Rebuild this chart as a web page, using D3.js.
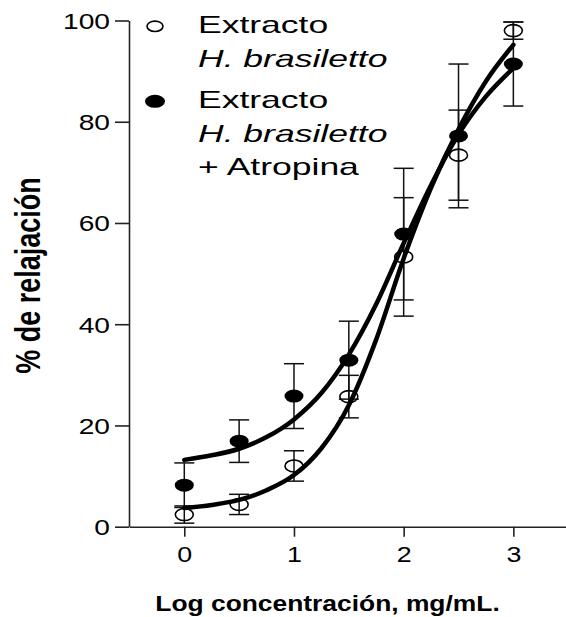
<!DOCTYPE html>
<html><head><meta charset="utf-8">
<script src="https://cdn.jsdelivr.net/npm/d3@7/dist/d3.min.js"></script>
<style>body{margin:0;background:#fff}svg{display:block}</style>
</head><body><svg id="c" width="566" height="617"></svg>
<script>
// ---- data ----
const doses = [0, 0.5, 1, 1.5, 2, 2.5, 3];
const extractoMean = [2.4, 4.4, 12.0, 25.7, 53.3, 73.4, 98.0];
const extractoSem  = [1.7, 2.0, 3.0, 4.2, 11.7, 8.9, 1.7];
const atropinaMean = [8.2, 16.9, 25.8, 32.9, 57.8, 77.2, 91.4];
const atropinaSem  = [4.4, 4.2, 6.4, 7.7, 13.0, 14.2, 8.3];
const fitX         = [0, 0.25, 0.5, 0.75, 1, 1.25, 1.5, 1.75, 2, 2.25, 2.5, 2.75, 3];
const extractoFit  = [3.7, 4.3, 5.3, 7.2, 10.2, 15.5, 24, 37, 53, 67, 78.5, 88, 95.2];
const atropinaFit  = [13.2, 14.1, 15.4, 17.7, 21.2, 26.4, 34, 44, 56, 67.5, 77.5, 85, 90.6];
const xTicks = [0, 1, 2, 3];
const yTicks = [0, 20, 40, 60, 80, 100];
const legendItems = [
  {marker: "open",   lines: [["Extracto", false], ["H. brasiletto", true]]},
  {marker: "filled", lines: [["Extracto", false], ["H. brasiletto", true], ["+ Atropina", false]]}
];
const xTitle = "Log concentración, mg/mL.";
const yTitle = "% de relajación";

// ---- drawing ----
const FONT = "'Liberation Sans', Arial, Helvetica, sans-serif";
const svg = d3.select("#c");
svg.append("rect").attr("width", 566).attr("height", 617).attr("fill", "#fff");

const x = d3.scaleLinear().domain([-0.5, 3.5]).range([129.45, 568.2]);
const y = d3.scaleLinear().domain([0, 100]).range([526.7, 20.5]);

// axes
const yAxis = svg.append("g").attr("transform", `translate(129,0)`)
  .call(d3.axisLeft(y).tickValues(yTicks).tickFormat(d3.format("d")).tickSize(14).tickPadding(5).tickSizeOuter(0));
const xAxis = svg.append("g").attr("transform", `translate(0,${y(0)})`)
  .call(d3.axisBottom(x).tickValues(xTicks).tickFormat(d3.format("d")).tickSize(10).tickPadding(10).tickSizeOuter(0));
[yAxis, xAxis].forEach(g => {
  g.select(".domain").attr("stroke", "#222").attr("stroke-width", 1.6);
  g.selectAll(".tick line").attr("stroke", "#222").attr("stroke-width", 1.6);
  g.selectAll(".tick text").attr("font-family", FONT).attr("font-size", 22).attr("fill", "#000");
});
yAxis.selectAll(".tick text").each(function() {
  const tx = +this.getAttribute("x");
  d3.select(this).attr("x", 0).attr("dy", "0.36em")
    .attr("transform", `translate(${tx},0) scale(1.28,1)`);
});
xAxis.selectAll(".tick text").each(function() {
  const ty = +this.getAttribute("y");
  d3.select(this).attr("y", 0)
    .attr("transform", `translate(0,${ty}) scale(1.22,1)`);
});

// axis titles
svg.append("text").attr("font-family", FONT).attr("font-weight", "bold").attr("font-size", 22)
  .attr("text-anchor", "middle").attr("fill", "#000")
  .attr("transform", `translate(327.5,611) scale(1.2,1)`).text(xTitle);
svg.append("text").attr("font-family", FONT).attr("font-weight", "bold").attr("font-size", 27)
  .attr("text-anchor", "middle").attr("fill", "#000")
  .attr("transform", `translate(40,275.5) rotate(-90) scale(1,1.3)`).text(yTitle);

// error bars
function errorBars(mean, sem) {
  const g = svg.append("g").attr("stroke", "#111").attr("stroke-width", 1.5).attr("fill", "none");
  doses.forEach((d, i) => {
    const cx = x(d), lo = y(mean[i] - sem[i]), hi = y(mean[i] + sem[i]);
    g.append("line").attr("x1", cx).attr("x2", cx).attr("y1", lo).attr("y2", hi);
    g.append("line").attr("x1", cx - 10).attr("x2", cx + 10).attr("y1", lo).attr("y2", lo);
    g.append("line").attr("x1", cx - 10).attr("x2", cx + 10).attr("y1", hi).attr("y2", hi);
  });
}
errorBars(extractoMean, extractoSem);
errorBars(atropinaMean, atropinaSem);

// markers
svg.append("g").selectAll("ellipse").data(doses).join("ellipse")
  .attr("cx", d => x(d)).attr("cy", (d, i) => y(extractoMean[i]))
  .attr("rx", 9).attr("ry", 6).attr("fill", "none").attr("stroke", "#000").attr("stroke-width", 1.6);
svg.append("g").selectAll("ellipse").data(doses).join("ellipse")
  .attr("cx", d => x(d)).attr("cy", (d, i) => y(atropinaMean[i]))
  .attr("rx", 9.5).attr("ry", 6.5).attr("fill", "#000");

// fitted curves
const line = vals => d3.line().x(d => x(d)).y((d, i) => y(vals[i])).curve(d3.curveMonotoneX)(fitX);
svg.append("path").attr("d", line(extractoFit)).attr("fill", "none").attr("stroke", "#000")
  .attr("stroke-width", 4.5).attr("stroke-linecap", "round");
svg.append("path").attr("d", line(atropinaFit)).attr("fill", "none").attr("stroke", "#000")
  .attr("stroke-width", 4.5).attr("stroke-linecap", "round");

// legend
const leg = svg.append("g");
let base = 33.3;
legendItems.forEach((item, k) => {
  const my = base - 7;
  if (item.marker === "open") {
    leg.append("ellipse").attr("cx", 155).attr("cy", my).attr("rx", 8).attr("ry", 5.2)
      .attr("fill", "none").attr("stroke", "#000").attr("stroke-width", 1.6);
  } else {
    leg.append("ellipse").attr("cx", 155).attr("cy", my).attr("rx", 10).attr("ry", 6.5).attr("fill", "#000");
  }
  item.lines.forEach(([txt, ital], j) => {
    leg.append("text").attr("font-family", FONT).attr("font-size", 24).attr("fill", "#000")
      .attr("font-style", ital ? "italic" : "normal")
      .attr("transform", `translate(198,${base + j * 33.4}) scale(1.48,1)`).text(txt);
  });
  base += (item.lines.length - 1) * 33.4 + 41.6;
});
</script>
</body></html>
